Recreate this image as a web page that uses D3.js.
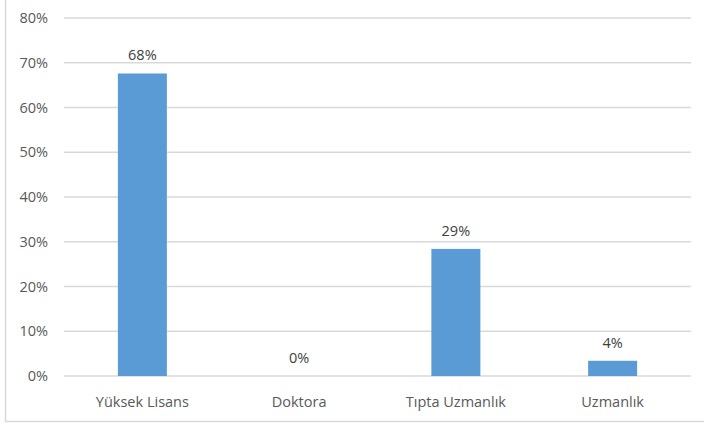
<!DOCTYPE html>
<html><head><meta charset="utf-8">
<script src="https://cdn.jsdelivr.net/npm/d3@7"></script>
<style>body{margin:0;background:#fff;} svg{display:block;}</style>
</head><body>
<script>
const categories = ["Yüksek Lisans", "Doktora", "Tıpta Uzmanlık", "Uzmanlık"];
const values = [0.676, 0, 0.284, 0.034];
const valueLabels = ["68%", "0%", "29%", "4%"];
const yTicks = [0, 0.1, 0.2, 0.3, 0.4, 0.5, 0.6, 0.7, 0.8];

(function () {
const W = 704, H = 426;
const svg = d3.select("body").append("svg").attr("width", W).attr("height", H);
const font = "'Open Sans', 'Noto Sans', sans-serif";
const fs = 14.5;

svg.append("rect").attr("x", 5.5).attr("y", -5).attr("width", 710).attr("height", 426.5)
  .attr("fill", "#fff").attr("stroke", "#d9d9d9").attr("stroke-width", 1.5);

const mLeft = 64, mRight = 691, mTop = 18, mBottom = 376;
const x = d3.scaleBand().domain(categories).range([mLeft, mRight]).padding(0);
const y = d3.scaleLinear().domain([0, 0.8]).range([mBottom, mTop]);

const g = svg.append("g");
g.selectAll("line.grid").data(yTicks).join("line")
  .attr("x1", mLeft).attr("x2", mRight)
  .attr("y1", d => y(d)).attr("y2", d => y(d))
  .attr("stroke", "#d9d9d9").attr("stroke-width", 1.3);

g.selectAll("text.ytick").data(yTicks).join("text")
  .attr("x", 48).attr("y", d => y(d)).attr("dy", "0.35em")
  .attr("text-anchor", "end").attr("font-family", font).attr("font-size", fs)
  .attr("fill", "#595959").text(d => d3.format(".0%")(d));

const bw = 49;
g.selectAll("rect.bar").data(values).join("rect")
  .attr("x", (d, i) => x(categories[i]) + x.bandwidth() / 2 - bw / 2)
  .attr("y", d => y(d)).attr("width", bw).attr("height", d => mBottom - y(d))
  .attr("fill", "#5b9bd5");

g.selectAll("text.vl").data(values).join("text")
  .attr("x", (d, i) => x(categories[i]) + x.bandwidth() / 2)
  .attr("y", d => y(d) - 13)
  .attr("text-anchor", "middle").attr("font-family", font).attr("font-size", fs)
  .attr("fill", "#404040").text((d, i) => valueLabels[i]);

g.selectAll("text.cat").data(categories).join("text")
  .attr("x", d => x(d) + x.bandwidth() / 2).attr("y", 407)
  .attr("text-anchor", "middle").attr("font-family", font).attr("font-size", fs)
  .attr("fill", "#595959").text(d => d);
})();
</script>
</body></html>
